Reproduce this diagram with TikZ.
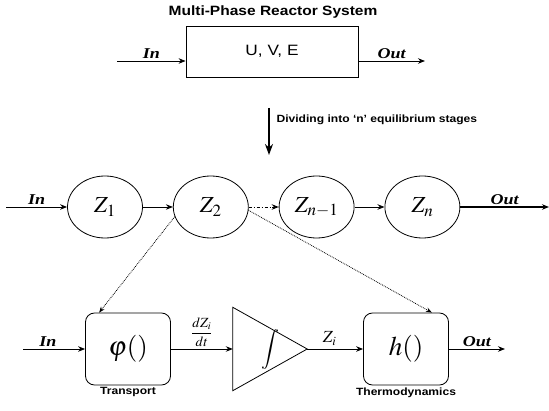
\documentclass[tikz,border=0pt]{standalone}
\usepackage{mathptmx}
\usepackage{fontspec}
\setmainfont{Liberation Serif}
\setsansfont{Liberation Sans}[FakeStretch=1.15]
\newfontfamily\iofont{Liberation Serif}[FakeStretch=1.2]
\usepackage{tikz}
\usetikzlibrary{arrows.meta,positioning,shapes.geometric}
\tikzset{
  sysbox/.style={draw, line width=0.8pt, minimum width=172pt, minimum height=51pt, font=\sffamily\fontsize{15}{18}\selectfont},
  stage/.style={draw, ellipse, line width=0.8pt, minimum width=75pt, minimum height=62pt, inner sep=0pt, font=\fontsize{23}{26}\selectfont},
  blk/.style={draw, rounded corners=9pt, line width=0.8pt, minimum width=85pt, minimum height=72pt, font=\fontsize{27}{30}\selectfont},
  caplbl/.style={font=\sffamily\bfseries\fontsize{10.5}{12}\selectfont, inner sep=1pt},
  io/.style={font=\iofont\bfseries\itshape\fontsize{15}{17}\selectfont, inner sep=2pt},
  fl/.style={-{Stealth[length=7pt,width=5.5pt]}, line width=0.9pt},
  link/.style={-{Stealth[length=6pt,width=4.5pt]}, densely dotted, line width=0.8pt},
}
\begin{document}
\begin{tikzpicture}[x=1pt, y=1pt, node distance=30pt]
  \useasboundingbox (0,0) rectangle (549,410);
  % ---- whole reactor ----
  \node[font=\sffamily\bfseries\fontsize{13.5}{16}\selectfont] (title) at (273,398) {Multi-Phase Reactor System};
  \node[sysbox] (sys) at (272,358.5) {U, V, E};
  \coordinate (sysin) at (117,349);
  \coordinate (sysout) at (425,349);
  \draw[fl] (sysin) -- node[io, above] {In} (sys.west |- sysin);
  \draw[fl] (sys.east |- sysout) -- node[io, above] {Out} (sysout);
  \coordinate (dtop) at (269,302);
  \coordinate (dbot) at (269,255);
  \draw[-{Stealth[length=11pt,width=8pt]}, line width=1.8pt] (dtop) -- (dbot);
  \node[font=\sffamily\bfseries\fontsize{10.5}{12}\selectfont, anchor=west] (split) at (273,290) {Dividing into `n' equilibrium stages};

  % ---- equilibrium stages ----
  \node[stage] (z1) at (105,203) {$Z_1$};
  \node[stage, right=of z1] (z2) {$Z_2$};
  \node[stage, right=of z2] (z3) {$Z_{n-1}$};
  \node[stage, right=of z3] (zn) {$Z_n$};
  \coordinate (in2) at (6,203);
  \coordinate (out2) at (549,203);
  \draw[fl] (in2) -- node[io, above] {In} (z1);
  \foreach \a/\b in {z1/z2,z3/zn} \draw[fl] (\a)--(\b);
  \draw[fl, dash dot] (z2) -- (z3);
  \draw[fl, line width=1.2pt] (zn) -- node[io, above] {Out} (out2);

  % ---- one stage ----
  \node[blk] (phi) at (128,61) {$\varphi()$};
  \node[minimum width=74pt, minimum height=83pt, inner sep=0pt, font=\fontsize{20}{24}\selectfont] (intg) at (270,61) {$\displaystyle\int$};
  \draw[line width=0.8pt] (intg.north west) -- (intg.east) -- (intg.south west) -- cycle;
  \node[blk] (h) at (406,61) {$h()$};
  \coordinate (in3) at (23,61);
  \coordinate (out3) at (505,61);
  \draw[fl] (in3) -- node[io, above, pos=0.4] {In} (phi);
  \draw[fl] (phi) -- node[above, font=\fontsize{14}{16}\selectfont, inner sep=2pt] {$\displaystyle\frac{dZ_i}{dt}$} (intg.west);
  \draw[fl] (intg.east) -- node[above, font=\fontsize{17}{19}\selectfont, pos=0.4] {$Z_i$} (h);
  \draw[fl] (h) -- node[io, above] {Out} (out3);
  \node[caplbl, below=1pt of phi] (tr) {Transport};
  \node[caplbl, below=1pt of h] (th) {Thermodynamics};
  \draw[link] (z2.195) -- ([xshift=14pt]phi.north west);
  \draw[link] (z2.-5) -- ([xshift=-17pt]h.north east);
\end{tikzpicture}
\end{document}
